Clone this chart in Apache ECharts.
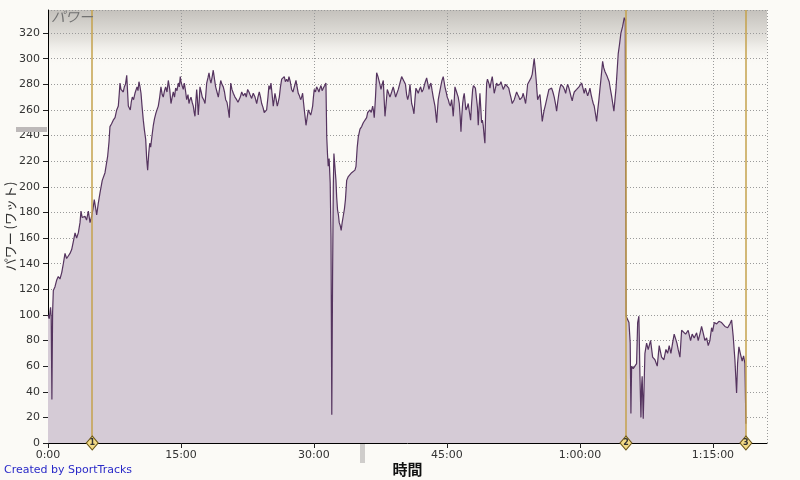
<!DOCTYPE html>
<html><head><meta charset="utf-8">
<script src="https://cdn.jsdelivr.net/npm/echarts@6/dist/echarts.min.js"></script>
<style>html,body{margin:0;padding:0;background:#fbfaf6}#c{width:800px;height:480px}</style>
</head><body><div id="c"></div>
<script>
// elapsed time in minutes
const timeMin = [
0,0.14,0.29,0.36,0.44,0.52,0.60,0.79,0.97,1.16,
1.35,1.55,1.73,1.92,2.10,2.29,2.48,2.67,2.85,3.05,
3.23,3.42,3.61,3.72,3.86,3.98,4.17,4.35,4.55,4.74,
4.93,5.08,5.22,5.36,5.49,5.67,5.86,6.12,6.43,6.73,
6.88,6.99,7.16,7.36,7.56,7.75,7.93,8.03,8.12,8.23,
8.38,8.49,8.61,8.74,8.88,8.97,9.06,9.28,9.39,9.51,
9.65,9.81,10.04,10.15,10.26,10.38,10.49,10.62,10.75,10.88,
11.02,11.13,11.24,11.36,11.47,11.58,11.70,11.88,12.01,12.15,
12.29,12.44,12.60,12.74,12.88,13.00,13.14,13.27,13.42,13.57,
13.73,13.87,14.01,14.13,14.27,14.40,14.55,14.70,14.81,14.92,
15.03,15.15,15.26,15.37,15.51,15.64,15.79,15.90,16.01,16.13,
16.26,16.39,16.49,16.58,16.69,16.77,16.86,16.95,17.05,17.14,
17.28,17.40,17.56,17.71,17.80,17.90,18.04,18.16,18.27,18.38,
18.52,18.64,18.78,18.91,19.06,19.21,19.34,19.48,19.62,19.77,
19.91,20.04,20.19,20.33,20.45,20.53,20.61,20.75,20.90,21.09,
21.28,21.43,21.54,21.69,21.85,22.03,22.22,22.36,22.52,22.67,
22.78,22.97,23.15,23.35,23.54,23.68,23.83,23.97,24.10,24.25,
24.39,24.53,24.66,24.81,24.92,25.04,25.15,25.28,25.41,25.51,
25.60,25.74,25.86,25.97,26.09,26.22,26.36,26.50,26.65,26.78,
26.92,27.07,27.18,27.33,27.48,27.63,27.74,27.86,27.97,28.10,
28.23,28.36,28.50,28.61,28.72,28.82,28.91,29.01,29.10,29.23,
29.36,29.49,29.63,29.74,29.85,29.94,30.03,30.17,30.30,30.45,
30.56,30.68,30.79,30.92,31.05,31.21,31.35,31.44,31.53,31.61,
31.71,31.83,31.92,32.01,32.10,32.18,32.25,32.37,32.48,32.56,
32.66,32.76,32.85,32.95,33.07,33.18,33.30,33.44,33.55,33.69,
33.87,34.06,34.25,34.43,34.62,34.74,34.88,35.00,35.19,35.38,
35.56,35.75,35.94,36.06,36.20,36.31,36.46,36.62,36.72,36.80,
36.94,37.07,37.22,37.33,37.44,37.56,37.69,37.82,37.92,38.01,
38.14,38.27,38.42,38.57,38.76,38.94,39.08,39.21,39.36,39.51,
39.70,39.89,40.04,40.18,40.32,40.45,40.57,
40.71,40.83,41.02,41.14,
41.28,41.39,41.50,41.64,41.76,41.90,42.03,42.18,42.33,42.52,
42.71,42.83,42.97,43.08,43.19,43.33,43.45,43.65,43.84,43.93,
44.02,44.15,44.29,44.44,44.58,44.68,44.77,44.91,45.03,45.15,
45.26,45.39,45.53,45.62,45.71,45.81,45.90,46.04,46.16,46.27,
46.39,46.49,46.58,46.67,46.77,46.86,46.95,47.05,47.14,47.28,
47.40,47.54,47.67,47.78,47.90,47.99,48.08,48.21,48.35,48.44,
48.53,48.63,48.72,48.81,48.91,49.00,49.09,49.19,49.28,49.37,
49.48,49.57,49.66,49.76,49.85,49.98,50.11,50.22,50.33,50.47,
50.60,50.73,50.86,50.98,51.09,51.22,51.35,51.48,51.62,51.73,
51.84,51.97,52.10,52.24,52.36,52.48,52.59,52.72,52.86,52.98,
53.12,53.23,53.34,53.48,53.60,53.74,53.87,53.99,54.10,54.25,
54.36,54.49,54.62,54.73,54.84,54.96,55.07,55.15,55.23,55.35,
55.49,55.62,55.75,55.86,55.97,56.11,56.24,56.37,56.50,56.65,
56.81,56.95,57.10,57.24,57.37,57.49,57.63,57.74,57.86,57.99,
58.12,58.25,58.39,58.50,58.61,58.76,58.87,59.01,59.13,59.24,
59.36,59.49,59.63,59.77,59.89,60.03,60.19,60.34,60.48,60.62,
60.75,60.87,61.01,61.13,61.26,61.39,61.50,61.61,61.75,61.88,
62.01,62.14,62.25,62.37,62.48,62.56,62.68,62.82,62.95,63.08,
63.19,63.30,63.44,63.57,63.70,63.83,63.95,64.06,64.19,64.32,
64.48,64.62,64.81,65.00,65.11,65.21,65.38,65.53,65.67,65.75,
65.83,66.01,66.20,66.39,66.51,66.65,66.77,66.88,66.96,67.02,
67.14,67.24,67.33,67.52,67.70,67.97,68.20,68.46,68.72,68.94,
69.21,69.47,69.70,69.89,70.07,70.26,70.45,70.63,70.79,70.94,
71.08,71.28,71.47,71.65,71.92,72.21,72.48,72.66,72.89,73.16,
73.34,73.53,73.72,73.90,74.10,74.29,74.47,74.66,74.85,74.96,
75.15,75.42,75.68,75.98,76.16,76.35,76.66,76.92,77.11,77.29,
77.48,77.67,77.78,77.93,78.12,78.30,78.46,78.61,78.72
];
// power in watts
const power = [
100,97,106,99,34,102,119,122,127,130,
128,133,140,148,144,146,148,151,157,164,
160,164,172,181,176,175,177,174,181,172,
177,183,190,184,178,187,195,205,211,224,
235,247,249,252,254,260,263,272,281,276,
277,274,278,280,287,275,263,260,266,270,
268,273,278,275,282,278,273,262,252,244,
237,222,213,226,234,231,238,248,253,257,
260,263,270,278,272,270,275,278,274,283,
276,265,270,274,270,277,275,281,278,286,
281,280,276,281,275,268,272,265,268,270,
266,263,258,255,268,276,268,256,266,278,
274,270,268,265,272,281,285,289,284,281,
286,291,284,278,274,270,276,283,280,278,
274,268,266,260,254,268,281,276,273,270,
268,266,265,270,274,271,273,270,276,274,
272,269,273,270,265,270,274,270,265,262,
258,259,260,270,279,276,281,272,263,268,
273,268,263,266,270,278,284,283,286,282,
284,282,286,282,276,274,277,280,283,278,
273,271,268,270,273,266,260,254,248,254,
260,258,256,259,263,270,276,274,278,276,
274,277,279,275,277,279,281,239,225,216,
222,203,161,22,130,200,226,215,205,192,
182,178,172,170,166,172,177,183,190,205,
208,209,211,211,213,216,231,239,245,247,
250,250,254,258,257,260,258,263,259,254,
270,289,286,285,280,276,280,283,268,255,
265,276,273,270,274,278,274,270,273,276,
281,286,284,283,280,272,268,
272,280,265,262,
257,268,277,275,273,276,278,274,276,281,
285,281,276,279,281,275,270,263,250,260,
268,273,278,283,286,282,278,274,270,268,
265,263,268,262,255,266,278,275,276,270,
265,255,243,255,265,270,273,266,260,262,
265,258,252,265,276,279,280,277,276,262,
248,262,273,262,250,252,248,240,234,260,
281,284,283,280,277,282,286,280,273,277,
281,279,278,280,282,279,276,278,280,279,
281,277,273,269,265,266,268,271,274,272,
270,268,267,270,273,269,265,272,280,282,
283,285,288,294,300,292,283,275,268,270,
272,262,251,256,260,264,268,272,276,276,
277,274,270,265,259,266,273,277,280,279,
278,276,273,277,280,277,274,270,267,271,
274,275,276,277,278,279,281,277,273,277,
278,271,274,277,272,268,265,263,257,251,
260,268,276,284,292,298,293,290,288,286,
284,282,276,271,265,259,268,276,290,304,
312,320,325,332,330,99,99,94,78,23,
60,58,57,62,94,99,52,20,45,52,
19,45,70,78,73,80,67,65,60,76,
67,65,73,70,76,70,78,85,86,78,
73,67,88,87,85,88,80,85,82,86,
80,85,91,86,80,82,76,80,90,87,
94,93,95,94,95,91,90,93,96,83,
65,39,62,75,69,64,68,62,15
];
// lap markers (minutes)
const lapTimes = [4.99, 65.19, 78.72];
const lapLabels = ['1', '2', '3'];
const xTickStepMin = 15;
const yTickStep = 20;

const n = Math.min(timeMin.length, power.length);
const seriesData = [];
for (let i = 0; i < n; i++) seriesData.push([timeMin[i], power[i]]);

function fmtTime(v) {
  const h = Math.floor(v / 60);
  const m = Math.round(v - h * 60);
  const mm = (m < 10 ? '0' : '') + m;
  return h > 0 ? h + ':' + mm + ':00' : m + ':00';
}

const chart = echarts.init(document.getElementById('c'), null, {renderer: 'canvas'});
const font = '"DejaVu Sans", Tahoma, sans-serif';
const dotted = {color: '#9a9a9a', width: 1, type: [1, 2]};
chart.setOption({
  backgroundColor: '#fbfaf6',
  animation: false,
  grid: {left: 48, top: 10, right: 33, bottom: 37, containLabel: false, outerBoundsMode: 'none'},
  xAxis: {
    type: 'value', min: 0, max: 81.1, interval: xTickStepMin,
    name: '時間', nameLocation: 'middle', nameGap: 19, nameMoveOverlap: false,
    nameTextStyle: {fontFamily: '"Noto Sans CJK JP", sans-serif', fontSize: 15, fontWeight: 'bold', color: '#111'},
    axisLine: {show: true, lineStyle: {color: '#000', width: 1}},
    axisTick: {show: true, length: 5, lineStyle: {color: '#222'}},
    axisLabel: {fontFamily: font, fontSize: 11, color: '#333', margin: 7, formatter: fmtTime, showMaxLabel: false},
    splitLine: {show: true, lineStyle: dotted}
  },
  yAxis: {
    type: 'value', min: 0, max: 338, interval: yTickStep,
    name: 'パワー (ワット)', nameLocation: 'middle', nameGap: 31, nameRotate: 90, nameMoveOverlap: false,
    nameTextStyle: {fontFamily: '"Noto Sans CJK JP", sans-serif', fontSize: 13, color: '#333'},
    axisLine: {show: true, lineStyle: {color: '#000', width: 1}},
    axisTick: {show: true, length: 5, lineStyle: {color: '#222'}},
    axisLabel: {fontFamily: font, fontSize: 11, color: '#333', margin: 8, showMaxLabel: false},
    splitLine: {show: true, lineStyle: dotted}
  },
  graphic: [
    {type: 'rect', z: -5, shape: {x: 48, y: 10, width: 719, height: 56},
     style: {fill: new echarts.graphic.LinearGradient(0, 0, 0, 1, [
       {offset: 0, color: '#c4c1bc'}, {offset: 0.55, color: '#e6e4df'}, {offset: 1, color: 'rgba(251,250,246,0)'}])}},
    {type: 'text', z: 10, left: 51, top: 10,
     style: {text: 'パワー', font: 'italic 14px "Noto Sans CJK JP", sans-serif', fill: '#727272'}},
    {type: 'text', z: 10, left: 4, top: 465,
     style: {text: 'Created by SportTracks', font: '11px ' + font, fill: '#2a2ac8'}},
    {type: 'rect', z: 10, shape: {x: 16, y: 127, width: 31, height: 5}, style: {fill: '#bdb9b9'}},
    {type: 'rect', z: 10, shape: {x: 360, y: 444, width: 5, height: 19}, style: {fill: '#cfcdcb'}}
  ],
  series: [{
    type: 'line', data: seriesData, showSymbol: false, smooth: false,
    lineStyle: {color: '#55345f', width: 1.2},
    areaStyle: {color: '#d5cbd6', opacity: 1},
    markLine: {
      silent: true, symbol: ['none', 'none'], label: {show: false},
      lineStyle: {color: '#c4a24c', width: 1.5, type: 'solid'},
      data: lapTimes.map(t => ({xAxis: t}))
    },
    markPoint: {
      silent: true, symbol: 'diamond', symbolSize: [12, 14],
      itemStyle: {color: '#f3db86', borderColor: '#6e5a1c', borderWidth: 1},
      label: {show: true, formatter: '{b}', fontSize: 8, fontWeight: 'bold', color: '#333', fontFamily: font},
      data: lapTimes.map((t, i) => ({name: lapLabels[i], coord: [t, 0]}))
    }
  }]
});
</script></body></html>
